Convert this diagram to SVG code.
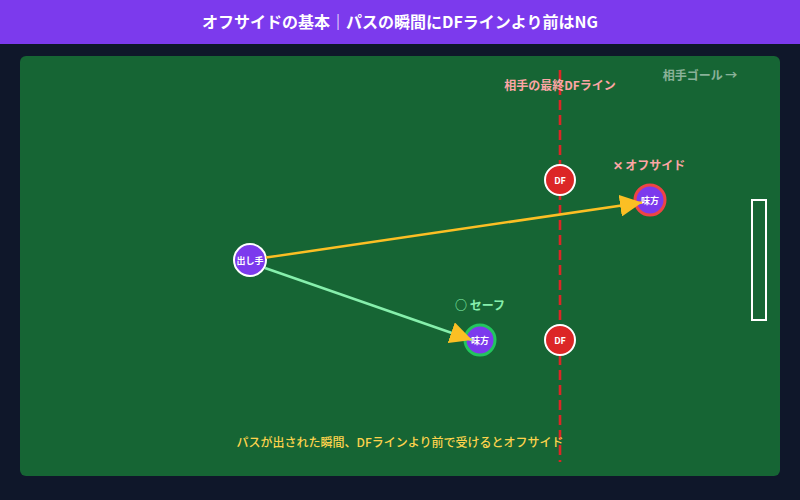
<svg xmlns="http://www.w3.org/2000/svg" width="800" height="500" viewBox="0 0 800 500">
<style>
.t{font-family:"Noto Sans CJK JP","Noto Sans",sans-serif;font-weight:bold;text-anchor:middle}
.lbl{font-size:12px}
.nd{font-size:9px;fill:#ffffff}
</style>
<defs>
<marker id="ah" viewBox="0 0 10 10" refX="10" refY="5" markerWidth="22" markerHeight="22" markerUnits="userSpaceOnUse" orient="auto">
<path d="M0,0 L10,5 L0,10 z" fill="#fbbf24"/>
</marker>
</defs>
<rect width="800" height="500" fill="#0f172a"/>
<rect width="800" height="44" fill="#7c3aed"/>
<text class="t" x="400" y="28" font-size="16" fill="#ffffff">オフサイドの基本｜パスの瞬間にDFラインより前はNG</text>
<rect x="20" y="56" width="760" height="420" rx="6" fill="#166534"/>
<g id="df-line">
<line x1="560" y1="70" x2="560" y2="462" stroke="#dc2626" stroke-width="2.6" stroke-dasharray="10 5"/>
<text class="t lbl" x="560" y="90" fill="#fca5a5">相手の最終DFライン</text>
</g>
<g id="goal">
<text class="t lbl" x="700" y="80" fill="#ffffff" fill-opacity="0.5">相手ゴール →</text>
<rect x="752" y="200" width="14" height="120" fill="none" stroke="#ffffff" stroke-width="2"/>
</g>
<g id="passer">
<circle cx="250" cy="260" r="16" fill="#7c3aed" stroke="#ffffff" stroke-width="2"/>
<text class="t nd" x="250" y="264">出し手</text>
</g>
<g id="df1">
<circle cx="560" cy="180" r="15" fill="#dc2626" stroke="#ffffff" stroke-width="2"/>
<text class="t nd" x="560" y="184">DF</text>
</g>
<g id="df2">
<circle cx="560" cy="340" r="15" fill="#dc2626" stroke="#ffffff" stroke-width="2"/>
<text class="t nd" x="560" y="344">DF</text>
</g>
<g id="mate-offside">
<text class="t lbl" x="649" y="170" fill="#fca5a5">✕ オフサイド</text>
<circle cx="650" cy="200" r="15" fill="#7c3aed" stroke="#ef4444" stroke-width="3"/>
<text class="t nd" x="650" y="204">味方</text>
</g>
<g id="mate-safe">
<text class="t lbl" x="480" y="310" fill="#86efac">○ セーフ</text>
<circle cx="480" cy="340" r="15" fill="#7c3aed" stroke="#22c55e" stroke-width="3"/>
<text class="t nd" x="480" y="344">味方</text>
</g>
<g id="connectors">
<line x1="266" y1="257.6" x2="642" y2="202.5" stroke="#fbbf24" stroke-width="2.5" marker-end="url(#ah)"/>
<line x1="265" y1="268" x2="472" y2="340" stroke="#86efac" stroke-width="2.5" marker-end="url(#ah)"/>
</g>
<text class="t" x="400" y="447" font-size="12" fill="#fcd34d" style="font-weight:500">パスが出された瞬間、DFラインより前で受けるとオフサイド</text>
</svg>
